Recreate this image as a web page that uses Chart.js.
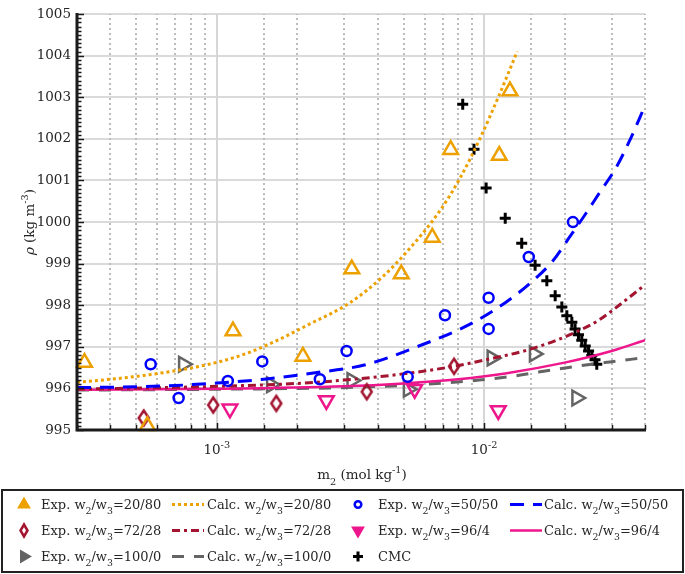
<!DOCTYPE html>
<html>
<head>
<meta charset="utf-8">
<script src="https://cdn.jsdelivr.net/npm/chart.js@4.4.1/dist/chart.umd.min.js"></script>
<style>
  body { margin: 0; background: #fff; }
  canvas { display: block; }
</style>
</head>
<body>
<canvas id="rhoChart" width="685" height="574"></canvas>
<script>
// experimental densities, m2 in mol/kg, rho in kg/m3
const exp2080X = [3.2e-4, 5.5e-4, 1.15e-3, 2.1e-3, 3.2e-3, 4.9e-3, 6.4e-3, 7.5e-3, 1.14e-2, 1.25e-2];
const exp2080Y = [996.62, 995.1, 997.38, 996.77, 998.87, 998.75, 999.63, 1001.74, 1001.6, 1003.15];
const exp5050X = [5.66e-4, 7.2e-4, 1.1e-3, 1.48e-3, 2.43e-3, 3.06e-3, 5.18e-3, 7.14e-3, 1.04e-2, 1.04e-2, 1.47e-2, 2.15e-2];
const exp5050Y = [996.58, 995.77, 996.18, 996.65, 996.22, 996.9, 996.28, 997.76, 998.18, 997.43, 999.16, 1000.0];
const exp7228X = [5.33e-4, 9.7e-4, 1.67e-3, 3.64e-3, 7.72e-3];
const exp7228Y = [995.29, 995.6, 995.64, 995.92, 996.53];
const exp964X = [1.12e-3, 2.57e-3, 5.5e-3, 1.13e-2];
const exp964Y = [995.51, 995.71, 995.98, 995.47];
const exp1000X = [7.5e-4, 1.6e-3, 3.2e-3, 5.2e-3, 1.07e-2, 1.54e-2, 2.22e-2];
const exp1000Y = [996.58, 996.09, 996.19, 995.98, 996.73, 996.83, 995.77];
const cmcX = [8.32e-3, 9.17e-3, 1.018e-2, 1.2e-2, 1.383e-2, 1.552e-2, 1.717e-2, 1.845e-2, 1.954e-2, 2.04e-2,
              2.13e-2, 2.19e-2, 2.255e-2, 2.32e-2, 2.39e-2, 2.46e-2, 2.53e-2, 2.6e-2, 2.64e-2];
const cmcY = [1002.83, 1001.75, 1000.82, 1000.09, 999.49, 998.96, 998.59, 998.23, 997.96, 997.75,
              997.59, 997.43, 997.29, 997.16, 997.02, 996.9, 996.79, 996.69, 996.58];

// calculated curves
const calc2080X = [3e-4, 4e-4, 5.6e-4, 8.6e-4, 1.2e-3, 1.54e-3, 2.23e-3, 3.15e-3, 4.2e-3, 5.13e-3, 6.8e-3, 8.2e-3, 9.67e-3, 1.13e-2, 1.33e-2];
const calc2080Y = [996.15, 996.22, 996.33, 996.53, 996.77, 997.04, 997.55, 998.06, 998.7, 999.28, 1000.25, 1001.1, 1002.02, 1003.0, 1004.1];
const calc5050X = [3e-4, 5e-4, 7e-4, 1e-3, 1.5e-3, 2.3e-3, 3.6e-3, 5.6e-3, 8.9e-3, 1.2e-2, 1.5e-2, 1.8e-2, 2.1e-2, 2.4e-2, 2.7e-2, 3.1e-2, 3.5e-2, 4e-2];
const calc5050Y = [996.02, 996.04, 996.07, 996.13, 996.22, 996.37, 996.57, 997.0, 997.55, 998.06, 998.55, 999.05, 999.66, 1000.2, 1000.7, 1001.28, 1001.95, 1002.8];
const calc7228X = [3e-4, 1e-3, 2e-3, 3e-3, 5e-3, 7.7e-3, 1e-2, 1.5e-2, 2.2e-2, 2.7e-2, 3.2e-2, 4e-2];
const calc7228Y = [995.98, 996.05, 996.12, 996.2, 996.35, 996.53, 996.68, 996.95, 997.35, 997.65, 998.0, 998.49];
const calc964X = [3e-4, 1e-3, 3e-3, 5e-3, 8e-3, 1.2e-2, 2e-2, 3e-2, 4e-2];
const calc964Y = [995.97, 995.99, 996.05, 996.12, 996.22, 996.36, 996.62, 996.9, 997.16];
const calc1000X = [3e-4, 1e-3, 3e-3, 6e-3, 9.6e-3, 1.3e-2, 1.9e-2, 2.9e-2, 4e-2];
const calc1000Y = [995.96, 995.98, 996.02, 996.1, 996.2, 996.3, 996.47, 996.63, 996.74];

const xTickLabels = [[1e-3, '10', '-3'], [1e-2, '10', '-2']];

const FONT = '"DejaVu Serif", serif';
const TXT = '#262626';
const cOrange = '#EDA100', cBlue = '#0000FF', cRed = '#A2142F', cPink = '#EE168C', cGray = '#646464';

const pts = (xs, ys) => xs.map((v, i) => ({ x: v, y: ys[i] }));

function diamondImg(color) {
  const c = document.createElement('canvas');
  c.width = 16; c.height = 22;
  const g = c.getContext('2d');
  g.strokeStyle = color; g.lineWidth = 2.5; g.lineJoin = 'miter';
  g.beginPath();
  g.moveTo(8, 3.5); g.lineTo(13, 11); g.lineTo(8, 18.5); g.lineTo(3, 11);
  g.closePath(); g.stroke();
  return c;
}

function expSet(label, xs, ys, color, style, rot, r) {
  return {
    label, data: pts(xs, ys), showLine: false, clip: false,
    pointStyle: style, pointRotation: rot, pointRadius: r, pointHoverRadius: r,
    pointBorderWidth: 2.5, pointBorderColor: color, pointBackgroundColor: 'rgba(0,0,0,0)',
    borderColor: color, backgroundColor: color
  };
}
function calcSet(label, xs, ys, color, dash, w) {
  return {
    label, data: pts(xs, ys), showLine: true, pointRadius: 0, pointHoverRadius: 0,
    borderColor: color, backgroundColor: color, borderWidth: w, borderDash: dash,
    cubicInterpolationMode: 'monotone', borderCapStyle: 'butt'
  };
}

const datasets = [
  expSet('Exp. w2/w3=20/80', exp2080X, exp2080Y, cOrange, 'triangle', 0, 8.5),
  calcSet('Calc. w2/w3=20/80', calc2080X, calc2080Y, cOrange, [3, 3], 3),
  expSet('Exp. w2/w3=50/50', exp5050X, exp5050Y, cBlue, 'circle', 0, 5),
  calcSet('Calc. w2/w3=50/50', calc5050X, calc5050Y, cBlue, [14, 9], 3),
  expSet('Exp. w2/w3=72/28', exp7228X, exp7228Y, cRed, diamondImg(cRed), 0, 8),
  calcSet('Calc. w2/w3=72/28', calc7228X, calc7228Y, cRed, [8, 4, 3, 4], 3),
  expSet('Exp. w2/w3=96/4', exp964X, exp964Y, cPink, 'triangle', 180, 8.5),
  calcSet('Calc. w2/w3=96/4', calc964X, calc964Y, cPink, [], 2.5),
  expSet('Exp. w2/w3=100/0', exp1000X, exp1000Y, cGray, 'triangle', 90, 8.5),
  calcSet('Calc. w2/w3=100/0', calc1000X, calc1000Y, cGray, [12, 10], 3),
  Object.assign(expSet('CMC', cmcX, cmcY, '#000', 'cross', 0, 5.5), { pointBorderWidth: 3 })
];

// draws text with sub/superscripts; parts = [{t, pos, it}]
function richText(ctx, parts, x, y, size, align) {
  const fnt = p => (p.it ? 'italic ' : '') + (p.pos ? size * 0.72 : size) + 'px ' + FONT;
  let w = 0;
  parts.forEach(p => { ctx.font = fnt(p); w += ctx.measureText(p.t).width; });
  let cx = align === 'center' ? x - w / 2 : x;
  ctx.textAlign = 'left';
  ctx.textBaseline = 'alphabetic';
  parts.forEach(p => {
    ctx.font = fnt(p);
    const dy = p.pos === 'sub' ? size * 0.42 : p.pos === 'sup' ? -size * 0.45 : 0;
    ctx.fillText(p.t, cx, y + dy);
    cx += ctx.measureText(p.t).width;
  });
}
function labelParts(label) {
  const out = [];
  label.split(/(w[23])/).forEach(s => {
    if (/^w[23]$/.test(s)) { out.push({ t: 'w' }); out.push({ t: s[1], pos: 'sub' }); }
    else if (s) out.push({ t: s });
  });
  return out;
}
const isDecade = v => Math.abs(Math.log10(v) - Math.round(Math.log10(v))) < 1e-6;

const framePlugin = {
  id: 'frame',
  beforeDatasetsDraw(chart) {
    const { ctx, chartArea: a, scales: { x, y } } = chart;
    ctx.save();
    ctx.lineWidth = 2;
    ctx.strokeStyle = '#dadada';
    y.ticks.forEach(t => {
      const py = Math.round(y.getPixelForValue(t.value));
      ctx.beginPath(); ctx.moveTo(a.left, py); ctx.lineTo(a.right, py); ctx.stroke();
    });
    x.ticks.forEach(t => {
      const px = Math.round(x.getPixelForValue(t.value));
      const major = isDecade(t.value);
      ctx.setLineDash(major ? [] : [2, 3]);
      ctx.strokeStyle = major ? '#d6d6d6' : '#bcbcbc';
      ctx.beginPath(); ctx.moveTo(px, a.bottom); ctx.lineTo(px, a.top); ctx.stroke();
    });
    ctx.restore();
  },
  afterDatasetsDraw(chart) {
    const { ctx, chartArea: a, scales: { x, y } } = chart;
    ctx.save();
    ctx.strokeStyle = '#1a1a1a';
    // minor / major ticks pointing inward
    ctx.lineWidth = 1.5;
    for (let i = 0; i <= 100; i++) {
      const py = Math.round(y.getPixelForValue(995 + i / 10)) + 0.5;
      const len = i % 10 === 0 ? 7 : 4.5;
      ctx.beginPath(); ctx.moveTo(a.left, py); ctx.lineTo(a.left + len, py); ctx.stroke();
    }
    x.ticks.forEach(t => {
      const px = Math.round(x.getPixelForValue(t.value)) + 0.5;
      const len = isDecade(t.value) ? 7 : 5;
      ctx.beginPath(); ctx.moveTo(px, a.bottom); ctx.lineTo(px, a.bottom - len); ctx.stroke();
    });
    // axis lines
    ctx.lineWidth = 3;
    ctx.beginPath();
    ctx.moveTo(a.left, a.top - 1); ctx.lineTo(a.left, a.bottom); ctx.lineTo(a.right + 1, a.bottom);
    ctx.stroke();

    ctx.fillStyle = TXT;
    // x tick labels with exponent
    xTickLabels.forEach(([v, base, ex]) => {
      richText(ctx, [{ t: base }, { t: ex, pos: 'sup' }], x.getPixelForValue(v), 454, 13.5, 'center');
    });
    // axis titles
    richText(ctx, [{ t: 'm' }, { t: '2', pos: 'sub' }, { t: ' (mol kg' }, { t: '-1', pos: 'sup' }, { t: ')' }],
      362, 479, 13.5, 'center');
    ctx.save();
    ctx.translate(34, (a.top + a.bottom) / 2);
    ctx.rotate(-Math.PI / 2);
    richText(ctx, [{ t: 'ρ', it: true }, { t: ' (kg m' }, { t: '-3', pos: 'sup' }, { t: ')' }], 0, 0, 13.5, 'center');
    ctx.restore();

    // legend box
    ctx.lineWidth = 2;
    ctx.strokeStyle = '#222';
    ctx.strokeRect(2, 490, 681, 82);
    const cols = [{ mx: 24, tx: 41 }, { l0: 172, l1: 204, tx: 207 }, { mx: 358, tx: 378 }, { l0: 510, l1: 542, tx: 544 }];
    const rows = [509, 535, 561];
    chart.data.datasets.forEach((ds, i) => {
      const col = cols[i % 4], by = rows[Math.floor(i / 4)], my = by - 4.5;
      ctx.save();
      ctx.strokeStyle = ds.borderColor; ctx.fillStyle = ds.borderColor;
      if (col.l0 !== undefined) {
        ctx.lineWidth = ds.borderWidth;
        ctx.setLineDash(ds.borderDash);
        ctx.beginPath(); ctx.moveTo(col.l0, my); ctx.lineTo(col.l1, my); ctx.stroke();
      } else if (typeof ds.pointStyle !== 'string') {
        ctx.lineWidth = 2.5;
        ctx.beginPath();
        ctx.moveTo(col.mx, my - 6); ctx.lineTo(col.mx + 3.5, my); ctx.lineTo(col.mx, my + 6); ctx.lineTo(col.mx - 3.5, my);
        ctx.closePath(); ctx.stroke();
      } else {
        const circ = ds.pointStyle === 'circle';
        ctx.lineWidth = ds.pointBorderWidth;
        if (circ) ctx.fillStyle = '#fff';
        Chart.helpers.drawPoint(ctx, {
          pointStyle: ds.pointStyle, rotation: ds.pointRotation,
          radius: circ ? 3.3 : (ds.pointStyle === 'cross' ? 5 : 5.5), borderWidth: ctx.lineWidth
        }, col.mx, my);
      }
      ctx.restore();
      ctx.fillStyle = TXT;
      richText(ctx, labelParts(ds.label), col.tx, by, 13, 'left');
    });
    ctx.restore();
  }
};

const ctx = document.getElementById('rhoChart').getContext('2d');
const rhoChart = new Chart(ctx, {
  type: 'scatter',
  data: { datasets: datasets },
  options: {
    responsive: false,
    animation: false,
    events: [],
    layout: { padding: { left: 0, right: 40, top: 5, bottom: 0 } },
    plugins: { legend: { display: false }, tooltip: { enabled: false } },
    scales: {
      x: {
        type: 'logarithmic', min: 3e-4, max: 4e-2,
        grid: { display: false, drawTicks: false },
        border: { display: false },
        ticks: { display: false },
        afterFit(s) { s.height = 144; }
      },
      y: {
        min: 995, max: 1005,
        grid: { display: false, drawTicks: false },
        border: { display: false },
        ticks: {
          stepSize: 1, padding: 6, color: TXT, font: { family: FONT, size: 13.5 },
          callback: v => String(v)
        },
        afterFit(s) { s.width = 77; }
      }
    }
  },
  plugins: [framePlugin]
});
</script>
</body>
</html>
